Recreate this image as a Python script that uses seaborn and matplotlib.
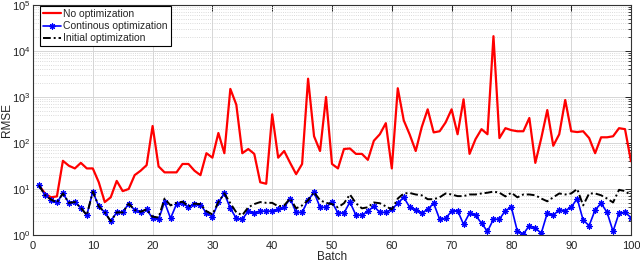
import matplotlib
matplotlib.use("Agg")
import matplotlib.pyplot as plt
import matplotlib.ticker as mticker
import seaborn as sns

# Valeurs (RMSE par batch)
batch = list(range(1, 101))

no_opt = [
    12, 8, 6.6, 6.9, 41, 32, 28, 37, 28, 28,
    14, 5.2, 6.6, 15, 9, 10, 20, 25, 33, 234,
    31, 23, 23, 23, 35, 35, 25, 20, 60, 48,
    165, 60, 1500, 680, 60, 74, 58, 14, 13, 420,
    48, 67, 37, 21, 35, 2500, 140, 67, 1000, 35,
    28, 74, 76, 58, 58, 43, 112, 155, 270, 28,
    1550, 310, 152, 67, 220, 540, 170, 180, 280, 540,
    155, 890, 58, 121, 200, 155, 21000, 128, 210, 190,
    180, 180, 350, 37, 128, 520, 87, 155, 860, 180,
    173, 180, 128, 60, 133, 133, 140, 210, 200, 40,
]

cont_opt = [
    12, 7.4, 5.9, 5.1, 8, 5, 5.2, 3.9, 2.7, 8.8,
    4.2, 3.1, 2.0, 3.1, 3.1, 4.8, 3.5, 3.2, 3.6, 2.3,
    2.2, 5.2, 2.3, 4.7, 5, 4.0, 4.7, 4.6, 3, 2.5,
    5.1, 8, 3.8, 2.3, 2.2, 3.3, 3, 3.3, 3.3, 3.3,
    3.6, 4, 6.2, 3.1, 3.1, 5.7, 8.5, 4, 4, 5.2,
    3, 3, 5.2, 2.7, 2.7, 3.3, 4.2, 3.1, 3.1, 3.6,
    4.9, 6.6, 4, 3.5, 3.0, 3.6, 4.9, 2.2, 2.3, 3.3,
    3.4, 1.7, 3.0, 2.7, 1.8, 1.2, 2.2, 2.2, 3.4, 4,
    1.2, 1.05, 1.6, 1.4, 1.1, 3, 2.7, 3.5, 3.4, 4,
    6.2, 2.1, 1.6, 3.5, 4.9, 3.1, 1.2, 3, 3.1, 2.4,
]

init_opt = [
    12, 7.4, 5.9, 5.1, 8, 5, 5.2, 3.9, 2.7, 8.8,
    4.2, 3.1, 2.0, 3.1, 3.1, 4.8, 3.5, 3.2, 3.6, 2.5,
    2.4, 6.2, 4.4, 5.0, 5.3, 4.2, 4.8, 4.7, 3.3, 2.8,
    5.2, 8, 4.9, 3.1, 2.7, 4.0, 4.7, 5.2, 5, 5,
    4.2, 4.4, 6.2, 3.8, 4.4, 5.7, 8.5, 5.7, 5, 4.7,
    4, 4.9, 7.6, 4.9, 3.8, 4.0, 5.1, 4.9, 4.2, 3.6,
    6.2, 8, 8.2, 7.6, 7.3, 6, 6, 6.6, 8, 7.6,
    7, 7, 7.6, 7.6, 8, 8.3, 8.8, 8.3, 6.9, 8.3,
    6.6, 7.6, 7.6, 7.3, 6.2, 5.4, 6.6, 8, 7.6, 8,
    10, 4.4, 8, 8, 7.3, 6.2, 5.1, 9.6, 9, 7.3,
]

labels = ["No optimization", "Continous optimization", "Initial optimization"]

sns.set_style("white")
plt.rcParams["font.family"] = ["Liberation Sans", "DejaVu Sans"]

fig = plt.figure(figsize=(6.4, 2.65), dpi=100)
ax = fig.add_axes([33 / 640, 30 / 265, 598 / 640, 230 / 265])

sns.lineplot(x=batch, y=no_opt, ax=ax, color="#ff0000", lw=1.6, label=labels[0])
sns.lineplot(x=batch, y=cont_opt, ax=ax, color="#0000ff", lw=1.2,
             marker=(8, 2, 0), markersize=4.5, markeredgewidth=0.8,
             markeredgecolor="#0000ff", label=labels[1])
sns.lineplot(x=batch, y=init_opt, ax=ax, color="black", lw=1.4,
             linestyle=(0, (4, 1.5, 1, 1.5)), label=labels[2])

ax.set_yscale("log")
ax.set_xlim(0, 100)
ax.set_ylim(1, 1e5)
ax.set_xticks(range(0, 101, 10))
ax.yaxis.set_major_locator(mticker.LogLocator(base=10, numticks=10))
ax.yaxis.set_minor_locator(mticker.LogLocator(base=10, subs=range(2, 10), numticks=50))
ax.yaxis.set_minor_formatter(mticker.NullFormatter())

ax.grid(which="major", color="#d6d6d6", lw=0.7, ls="-")
ax.grid(which="minor", axis="y", color="#cfcfcf", lw=0.6, ls=":")
ax.set_axisbelow(True)

ax.tick_params(which="both", direction="in", top=True, right=True,
               labelsize=8, colors="#222222")
ax.tick_params(axis="x", pad=4)
ax.tick_params(axis="y", pad=2)
ax.tick_params(which="major", length=4, width=0.7)
ax.tick_params(which="minor", length=2, width=0.6)
for s in ax.spines.values():
    s.set_color("#333333")
    s.set_linewidth(0.8)

ax.set_xlabel("Batch", fontsize=8.5)
ax.set_ylabel("RMSE", fontsize=8.5)
ax.xaxis.set_label_coords(0.5, -16 / 230)
ax.yaxis.set_label_coords(-20 / 598, 0.5)

leg = ax.legend(loc="upper left", bbox_to_anchor=(7 / 598, 1 - 1 / 230),
                borderaxespad=0, fontsize=7.5, frameon=True, fancybox=False,
                framealpha=1, edgecolor="black", handlelength=1.7,
                handletextpad=0.2, labelspacing=0.2, borderpad=0.3)
leg.get_frame().set_linewidth(0.8)

fig.savefig("out.png", dpi=100)
